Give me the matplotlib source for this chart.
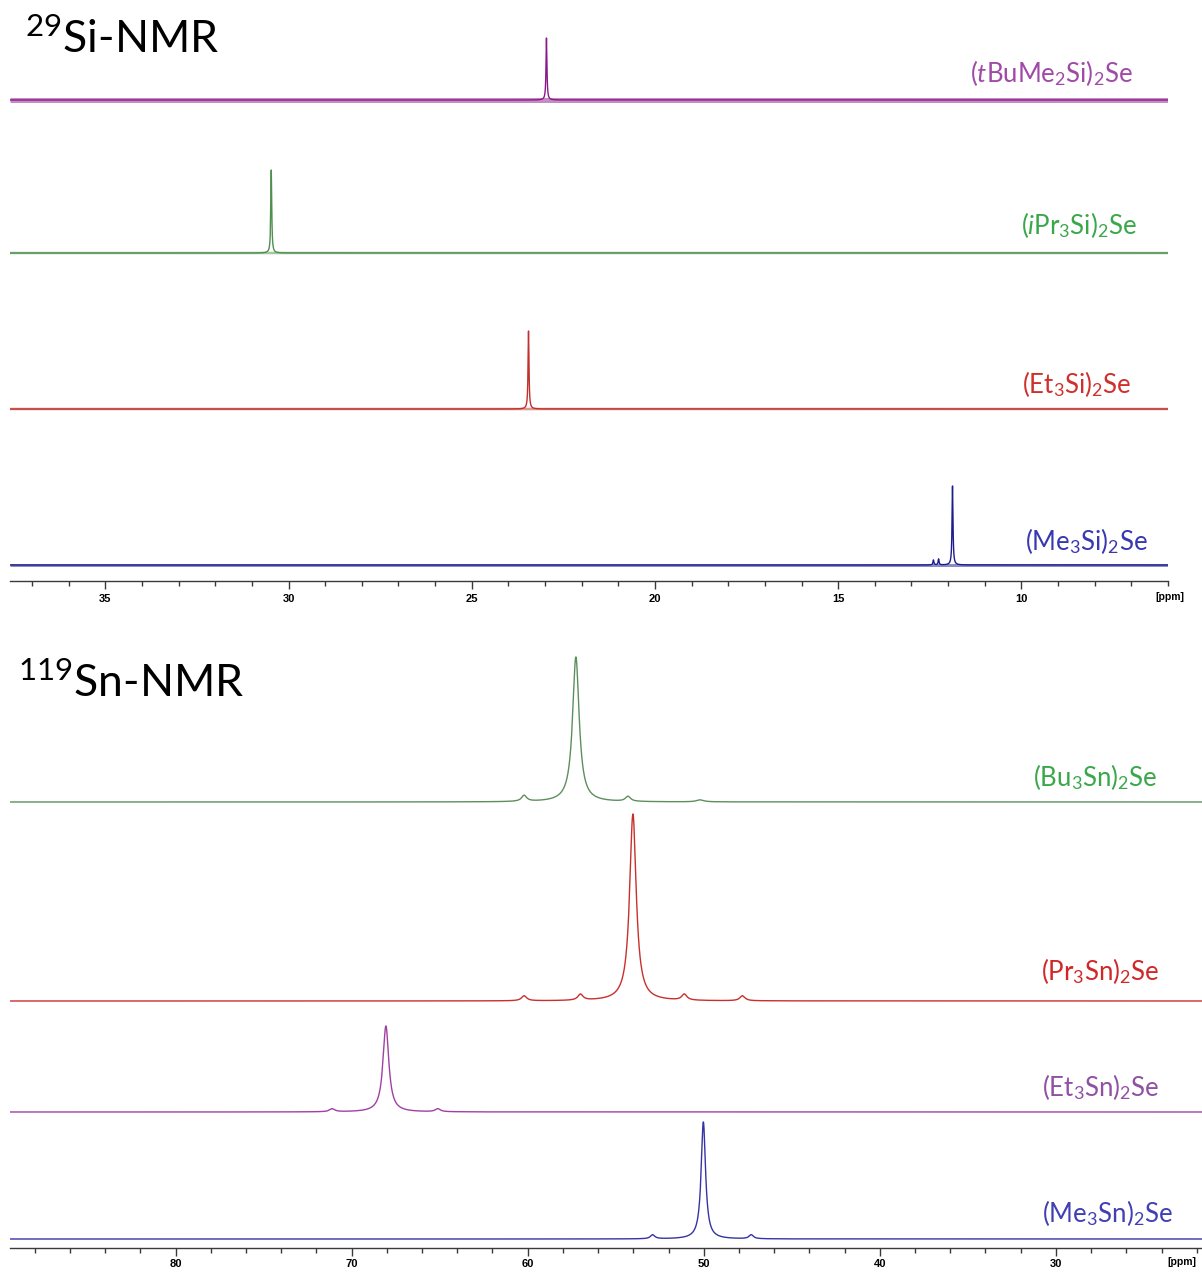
import numpy as np
import matplotlib
matplotlib.use("Agg")
import matplotlib.pyplot as plt
from matplotlib.ticker import MultipleLocator, FuncFormatter

# ---------------------------------------------------------------- data
# 29Si spectra: (shift in ppm, intensity) for each compound, top to bottom
si_names = [r"$($$\mathit{t}$BuMe$_2$Si$)_2$Se",
            r"$($$\mathit{i}$Pr$_3$Si$)_2$Se",
            r"(Et$_3$Si$)_2$Se",
            r"(Me$_3$Si$)_2$Se"]
si_peaks = [
    [(22.96, 62)],
    [(30.47, 83)],
    [(23.45, 78)],
    [(11.88, 79), (12.26, 6), (12.40, 5)],
]
si_fwhm = 0.03
si_xlim = (37.6, 6.0)
si_major, si_minor = 5, 1

# 119Sn spectra: (shift in ppm, intensity, line width in ppm)
sn_names = [r"(Bu$_3$Sn$)_2$Se",
            r"(Pr$_3$Sn$)_2$Se",
            r"(Et$_3$Sn$)_2$Se",
            r"(Me$_3$Sn$)_2$Se"]
sn_peaks = [
    [(57.26, 145, 0.45), (60.2, 6, 0.35), (54.3, 5, 0.35), (50.2, 2, 0.5)],
    [(54.02, 187, 0.45), (60.2, 5, 0.35), (57.0, 6, 0.35), (51.1, 6, 0.35), (47.8, 5, 0.35)],
    [(68.05, 86, 0.40), (71.1, 3, 0.35), (65.1, 3, 0.35)],
    [(50.02, 117, 0.30), (52.9, 4, 0.30), (47.3, 4, 0.30)],
]
sn_xlim = (89.4, 21.7)
sn_major, sn_minor = 10, 2

# ---------------------------------------------------------------- style
W, H, DPI = 1202, 1272, 100
plt.rcParams['font.family'] = ['Lato', 'DejaVu Sans']
plt.rcParams['mathtext.fontset'] = 'custom'
plt.rcParams['mathtext.rm'] = 'Lato'
plt.rcParams['mathtext.it'] = 'Lato:italic'
plt.rcParams['mathtext.bf'] = 'Lato:bold'

si_line_colors = ['#8a1a8a', '#4f8f4f', '#c0302c', '#1c1c8c']
si_text_colors = ['#a04aa8', '#3aa84a', '#d0302c', '#3838b0']
si_noise_px = [5.0, 2.5, 2.5, 3.0]          # thickness of the noisy baseline band
si_base_px = [100, 253, 409, 565]           # baseline rows (px from top)
si_label_xy = [(1133, 82), (1137, 234), (1131, 393), (1148, 550)]

sn_line_colors = ['#5d8f5d', '#c8302c', '#a040a4', '#3434a4']
sn_text_colors = ['#3aa84a', '#d02828', '#9050a4', '#4040b4']
sn_base_px = [802, 1001, 1112, 1239]
sn_label_xy = [(1157, 786), (1159, 980), (1159, 1096), (1173, 1222)]

fig = plt.figure(figsize=(W / DPI, H / DPI), dpi=DPI)


def px_axes(left, top, right, bottom):
    return fig.add_axes([left / W, 1 - bottom / H, (right - left) / W, (bottom - top) / H])


def lorentz(x, x0, h, w):
    return h / (1.0 + ((x - x0) / (w / 2.0)) ** 2)


def style_axis(ax, xlim, major, minor, height, pad):
    ax.set_xlim(*xlim)
    ax.set_ylim(0, height)
    for s in ('top', 'left', 'right'):
        ax.spines[s].set_visible(False)
    ax.spines['bottom'].set_color('#3a3a3a')
    ax.spines['bottom'].set_linewidth(1.0)
    ax.set_yticks([])
    ax.patch.set_alpha(0)
    ax.xaxis.set_major_locator(MultipleLocator(major))
    ax.xaxis.set_minor_locator(MultipleLocator(minor))
    ax.xaxis.set_major_formatter(FuncFormatter(lambda v, p: f"{v:g}"))
    ax.tick_params(axis='x', which='major', direction='out', length=6.0, width=1.0,
                   color='#3a3a3a', pad=pad, labelsize=8)
    ax.tick_params(axis='x', which='minor', direction='out', length=3.8, width=1.0,
                   color='#3a3a3a')


def bold_ticklabels(ax):
    for lab in ax.get_xticklabels():
        lab.set_fontfamily('Liberation Sans')
        lab.set_fontweight('bold')


# ---------------------------------------------------------------- 29Si panel
si_axis_row = 581
ax1 = px_axes(10, 0, 1168, si_axis_row)
style_axis(ax1, si_xlim, si_major, si_minor, si_axis_row, pad=3.0)
x1 = np.linspace(si_xlim[1], si_xlim[0], 30000)
for peaks, lc, nz, base in zip(si_peaks, si_line_colors, si_noise_px, si_base_px):
    y0 = si_axis_row - base
    ax1.plot(si_xlim, [y0, y0], color=lc, lw=nz * 0.72, alpha=0.5,
             solid_capstyle='butt')
    y = np.zeros_like(x1)
    for pos, h in peaks:
        y += lorentz(x1, pos, h, si_fwhm)
    ax1.plot(x1, y0 + y, color=lc, lw=1.0)
bold_ticklabels(ax1)

# ---------------------------------------------------------------- 119Sn panel
sn_axis_row = 1248
sn_top = 620
ax2 = px_axes(10, sn_top, 1202, sn_axis_row)
style_axis(ax2, sn_xlim, sn_major, sn_minor, sn_axis_row - sn_top, pad=2.0)
x2 = np.linspace(sn_xlim[1], sn_xlim[0], 20000)
for peaks, lc, base in zip(sn_peaks, sn_line_colors, sn_base_px):
    y0 = sn_axis_row - base
    y = np.zeros_like(x2)
    for pos, h, w in peaks:
        y += lorentz(x2, pos, h, w)
    ax2.plot(x2, y0 + y, color=lc, lw=1.0)
bold_ticklabels(ax2)

# ---------------------------------------------------------------- text
def ftext(x, y, s, **kw):
    fig.text(x / W, 1 - y / H, s, **kw)


ftext(25, 53, r"$^{29}$Si-NMR", fontsize=32, ha='left', va='baseline', color='black')
ftext(18, 697, r"$^{119}$Sn-NMR", fontsize=32, ha='left', va='baseline', color='black')

for name, col, (x, y) in zip(si_names, si_text_colors, si_label_xy):
    ftext(x, y, name, fontsize=18.5, ha='right', va='baseline', color=col)
for name, col, (x, y) in zip(sn_names, sn_text_colors, sn_label_xy):
    ftext(x, y, name, fontsize=18.5, ha='right', va='baseline', color=col)

ftext(1170, 597, "[ppm]", fontsize=7.5, ha='center', va='center',
      fontfamily='Liberation Sans', fontweight='bold')
ftext(1182, 1262, "[ppm]", fontsize=7.5, ha='center', va='center',
      fontfamily='Liberation Sans', fontweight='bold')

fig.savefig("out.png", dpi=DPI, facecolor='white')
